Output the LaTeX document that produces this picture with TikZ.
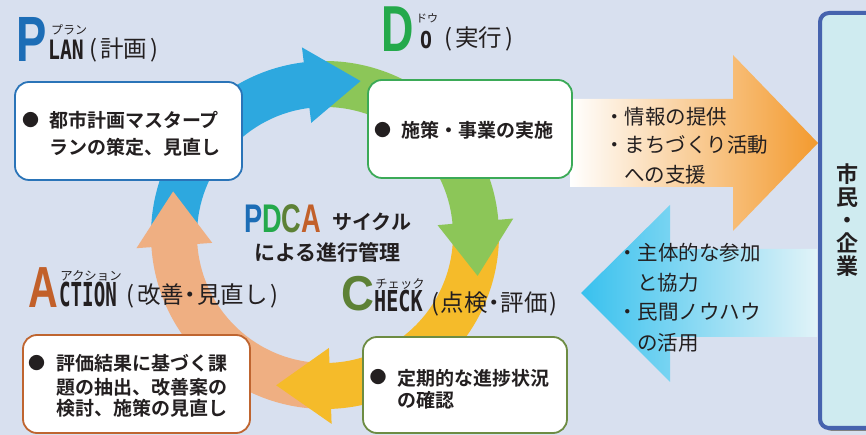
\documentclass[tikz,border=0pt]{standalone}
\usepackage{fontspec}
\usepackage{graphicx}
\setmainfont{Noto Sans CJK JP}[BoldFont={Noto Sans CJK JP Bold}]
\newfontfamily\monof{DejaVu Sans Mono}
\newfontfamily\bigf{Liberation Sans}
\usetikzlibrary{shadows}
\definecolor{bg}{HTML}{D8E0EF}
\definecolor{ink}{HTML}{231F20}
\definecolor{ringblue}{HTML}{2DA8DF}
\definecolor{ringgreen}{HTML}{8CC658}
\definecolor{ringyellow}{HTML}{F5BB2A}
\definecolor{ringorange}{HTML}{EFAF82}
\definecolor{pblue}{HTML}{1C6DB6}
\definecolor{planline}{HTML}{2A74B8}
\definecolor{dgreen}{HTML}{24A94B}
\definecolor{doline}{HTML}{3BAA57}
\definecolor{colive}{HTML}{5D8136}
\definecolor{checkline}{HTML}{6D8C43}
\definecolor{abrown}{HTML}{C2602A}
\definecolor{actline}{HTML}{BF6530}
\definecolor{arrorange}{HTML}{F39A2E}
\definecolor{arrcyan}{HTML}{38C1EE}
\definecolor{arrpale}{HTML}{E1F3F8}
\definecolor{citline}{HTML}{4663AE}
\definecolor{citfill}{HTML}{CFEBF0}
\newcommand{\fsz}[1]{\fontsize{#1}{#1}\selectfont}
\newcommand{\ringbody}[3]{\fill[#1] (#2:174) arc[start angle=#2, end angle=#3, radius=174] -- (#3:128) arc[start angle=#3, end angle=#2, radius=128] -- cycle;}
\newcommand{\ringhead}[2]{\fill[#1] (#2:113) -- (#2:189) -- ({#2-20}:158) -- cycle;}
\tikzset{
  box/.style={draw, line width=1.8pt, fill=white, rounded corners=14pt, inner sep=0pt},
  txt/.style={inner sep=0pt, outer sep=0pt, text=ink, font=\bfseries\fsz{19}, anchor=west},
  bul/.style={inner sep=0pt, outer sep=0pt, text=ink, font=\fsz{17}},
  rtxt/.style={inner sep=0pt, text=ink, font=\fsz{20.5}, anchor=west},
  lbl/.style={inner sep=0pt, text=ink, font=\fsz{23.5}, anchor=west},
  ruby/.style={inner sep=0pt, text=ink},
  mono/.style={inner sep=0pt, text=ink, anchor=base west},
  bigl/.style={inner sep=0pt, anchor=base west},
}
\begin{document}
\begin{tikzpicture}[x=1pt,y=1pt]
\useasboundingbox (0,0) rectangle (866,435);
\clip (0,0) rectangle (866,435);
\fill[bg] (0,0) rectangle (866,435);

% cycle ring
\begin{scope}[shift={(325,200)}]
\ringbody{ringblue}{180}{96}
\ringbody{ringgreen}{95}{4}
\ringbody{ringyellow}{4}{-89}
\ringbody{ringorange}{-90}{-177}
\ringhead{ringblue}{97}
\ringhead{ringgreen}{5}
\ringhead{ringyellow}{-88}
\ringhead{ringorange}{-176}
\end{scope}

% right block arrows
\shade[left color=white, right color=arrorange]
  (570,336) -- (733,336) -- (733,380) -- (818,292) -- (733,204) -- (733,248) -- (570,248) -- cycle;
\shade[left color=arrcyan, right color=arrpale]
  (581,142) -- (670,230) -- (670,186) -- (817,186) -- (817,98) -- (670,98) -- (670,53) -- cycle;

% citizen box
\node[draw=citline, line width=4pt, fill=citfill, rounded corners=9pt,
      minimum width=60pt, minimum height=415pt, inner sep=0pt,
      drop shadow={shadow xshift=3pt, shadow yshift=-3pt, fill=black!50, opacity=1}]
      (citizen) at (850,214.5) {};
\node[inner sep=0pt, text=ink, font=\bfseries\fsz{22}, align=center,
      execute at begin node=\setlength{\baselineskip}{23pt}] (citizentext) at (847,215) {市\\民\\・\\企\\業};

% boxes
\node[box, draw=planline, minimum width=227pt, minimum height=98pt] (planbox) at (128.5,304) {};
\node[box, draw=doline, minimum width=204pt, minimum height=98pt] (dobox) at (470,306) {};
\node[box, draw=checkline, minimum width=204pt, minimum height=96pt] (checkbox) at (465,50) {};
\node[box, draw=actline, minimum width=227pt, minimum height=98pt] (actbox) at (136.5,51) {};

% box texts
\node[bul] (planbul) at (30.5,314.5) {●};
\node[txt] (plan1) at (49,315) {都市計画マスタープ};
\node[txt] (plan2) at (49,288) {ランの策定、見直し};
\node[bul] (dobul) at (382.5,305) {●};
\node[txt] (do1) at (401,305) {施策・事業の実施};
\node[bul] (checkbul) at (378,57.5) {●};
\node[txt] (check1) at (397,57) {定期的な進捗状況};
\node[txt] (check2) at (397,35) {の確認};
\node[bul] (actbul) at (36.5,71.5) {●};
\node[txt] (act1) at (56,72) {評価結果に基づく課};
\node[txt] (act2) at (56,48) {題の抽出、改善案の};
\node[txt] (act3) at (56,27) {検討、施策の見直し};

% arrow texts
\node[rtxt] (o1) at (604,318) {・情報の提供};
\node[rtxt] (o2) at (604,290) {・まちづくり活動};
\node[rtxt] (o3) at (624,260) {への支援};
\node[rtxt] (b1) at (617,182) {・主体的な参加};
\node[rtxt] (b2) at (637,152) {と協力};
\node[rtxt] (b3) at (617,123) {・民間ノウハウ};
\node[rtxt] (b4) at (637,92) {の活用};

% centre title
\node[bigl] (pdca) at (244,202) {\bigf\bfseries\fsz{40}\scalebox{0.68}[1]{\textcolor{pblue}{P}\textcolor{dgreen}{D}\textcolor{colive}{C}\textcolor{abrown}{A}}};
\node[txt, font=\bfseries\fsz{20}] (cycle) at (332,213) {サイクル};
\node[txt, font=\bfseries\fsz{21}] (mgmt) at (254,183) {による進行管理};

% PLAN label
\node[bigl] (bigP) at (16.5,373) {\bigf\bfseries\fsz{64}\textcolor{pblue}{\scalebox{0.71}[1]{P}}};
\node[mono] (lan) at (48,375) {\monof\bfseries\fsz{26.7}\scalebox{0.74}[1]{LAN}};
\node[ruby, font=\fsz{12}] (planruby) at (69,405.5) {プラン};
\node[lbl] (planjp) at (89,385) {(\hspace{3pt}計画\hspace{3pt})};

% DO label
\node[bigl] (bigD) at (381.5,383) {\bigf\bfseries\fsz{65}\textcolor{dgreen}{\scalebox{0.69}[1]{D}}};
\node[mono] (o) at (420,386) {\monof\bfseries\fsz{23.3}\scalebox{0.85}[1]{O}};
\node[ruby, font=\fsz{11}] (doruby) at (427,417) {ドウ};
\node[lbl] (dojp) at (444,396) {(\hspace{3pt}実行\hspace{3pt})};

% CHECK label
\node[bigl] (bigC) at (341,124) {\bigf\bfseries\fsz{49}\textcolor{colive}{\scalebox{0.93}[1]{C}}};
\node[mono] (heck) at (374,123) {\monof\bfseries\fsz{28.8}\scalebox{0.7}[1]{HECK}};
\node[ruby, font=\fsz{12.3}] (checkruby) at (400,151) {チェック};
\node[lbl] (checkjp) at (431,131) {(\hspace{1.5pt}点検\makebox[13pt]{・}評価\hspace{2pt})};

% ACTION label
\node[bigl] (bigA) at (28,127) {\bigf\bfseries\fsz{58}\textcolor{abrown}{\scalebox{0.71}[1]{A}}};
\node[mono] (ction) at (59,128) {\monof\bfseries\fsz{33}\scalebox{0.58}[1]{CTION}};
\node[ruby, font=\fsz{12.4}] (actruby) at (91,159) {アクション};
\node[lbl] (actjp) at (126,139) {(\hspace{3pt}改善\makebox[13pt]{・}見直し\hspace{3pt})};
\end{tikzpicture}
\end{document}
